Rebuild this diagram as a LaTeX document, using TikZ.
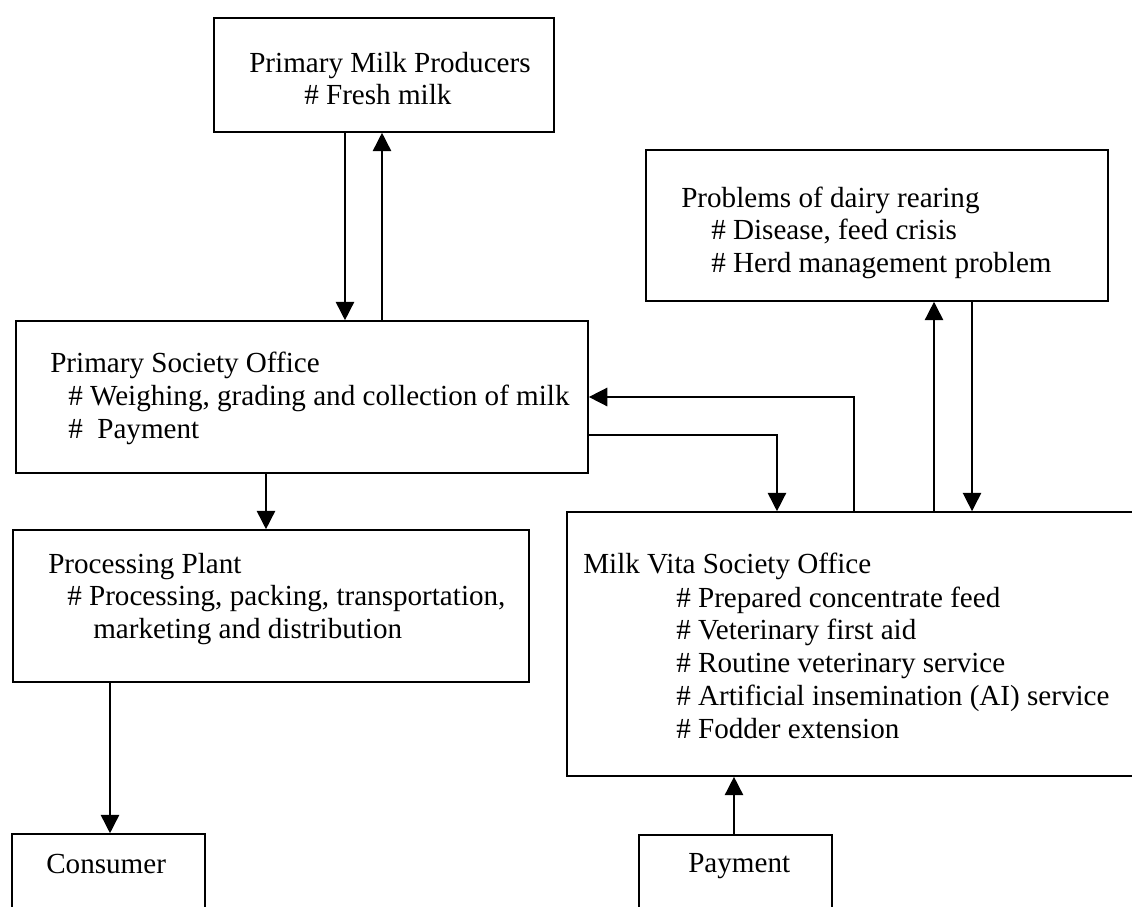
\documentclass[tikz,border=0pt]{standalone}
\usepackage{fontspec}
\setmainfont{Liberation Serif}
\usetikzlibrary{arrows.meta}

\begin{document}
\begin{tikzpicture}[x=0.025cm,y=-0.025cm,
  box/.style={draw,line width=1.1pt,inner sep=0pt},
  txt/.style={inner sep=0pt,anchor=base west,font=\fontsize{20.7}{24}\selectfont},
  arr/.style={line width=1.1pt,-{Triangle[length=4.6mm,width=4.6mm]}}]
\path[use as bounding box,clip] (0,0) rectangle (1132,907);
% boxes
\node[box,minimum width=8.5cm,minimum height=2.85cm] (pmp) at (384,75) {};
\node[box,minimum width=14.3cm,minimum height=3.8cm] (pso) at (302,397) {};
\node[box,minimum width=11.55cm,minimum height=3.775cm] (prob) at (877,225.5) {};
\node[box,minimum width=12.9cm,minimum height=3.8cm] (pp) at (271,606) {};
\node[box,minimum width=14.45cm,minimum height=6.6cm] (mvso) at (856,644) {};
\node[box,minimum width=4.825cm,minimum height=2.15cm] (cons) at (108.5,877) {};
\node[box,minimum width=4.825cm,minimum height=2.125cm] (pay) at (735.5,877.5) {};
% texts
\node[txt] (pmp1) at (249,73) {Primary Milk Producers};
\node[txt] (pmp2) at (304,105) {\# Fresh milk};
\node[txt] (pso1) at (50,372) {Primary Society Office};
\node[txt] (pso2) at (68,405) {\# Weighing, grading and collection of milk};
\node[txt] (pso3) at (68,438) {\#~~Payment};
\node[txt] (prob1) at (681,207) {Problems of dairy rearing};
\node[txt] (prob2) at (711,239) {\# Disease, feed crisis};
\node[txt] (prob3) at (711,272) {\# Herd management problem};
\node[txt] (pp1) at (48,573) {Processing Plant};
\node[txt] (pp2) at (67,605) {\# Processing, packing, transportation,};
\node[txt] (pp3) at (93,638) {marketing and distribution};
\node[txt] (mvso1) at (583,573) {Milk Vita Society Office};
\node[txt] (mvso2) at (676,607) {\# Prepared concentrate feed};
\node[txt] (mvso3) at (676,639) {\# Veterinary first aid};
\node[txt] (mvso4) at (676,672) {\# Routine veterinary service};
\node[txt] (mvso5) at (676,705) {\# Artificial insemination (AI) service};
\node[txt] (mvso6) at (676,738) {\# Fodder extension};
\node[txt] (cons1) at (46,873) {Consumer};
\node[txt] (pay1) at (688,872) {Payment};
% connectors
\draw[arr] ([xshift=-0.975cm]pmp.south) -- ([xshift=-0.975cm]pmp.south |- pso.north);
\draw[arr] ([xshift=-0.05cm]pmp.south |- pso.north) -- ([xshift=-0.05cm]pmp.south);
\draw[arr] ([xshift=-0.9cm]pso.south) -- ([xshift=-0.9cm]pso.south |- pp.north);
\draw[arr] ([xshift=0.0375cm]cons.north |- pp.south) -- ([xshift=0.0375cm]cons.north);
\draw[arr] ([xshift=-0.05cm]mvso.north) |- (pso.east);
\draw[arr] ([yshift=-0.95cm]pso.east) -| ([xshift=-1.975cm]mvso.north);
\draw[arr] ([xshift=1.425cm]prob.south |- mvso.north) -- ([xshift=1.425cm]prob.south);
\draw[arr] ([xshift=2.375cm]prob.south) -- ([xshift=2.375cm]prob.south |- mvso.north);
\draw[arr] ([xshift=-0.0375cm]pay.north) -- ([xshift=-0.0375cm]pay.north |- mvso.south);
\end{tikzpicture}
\end{document}
